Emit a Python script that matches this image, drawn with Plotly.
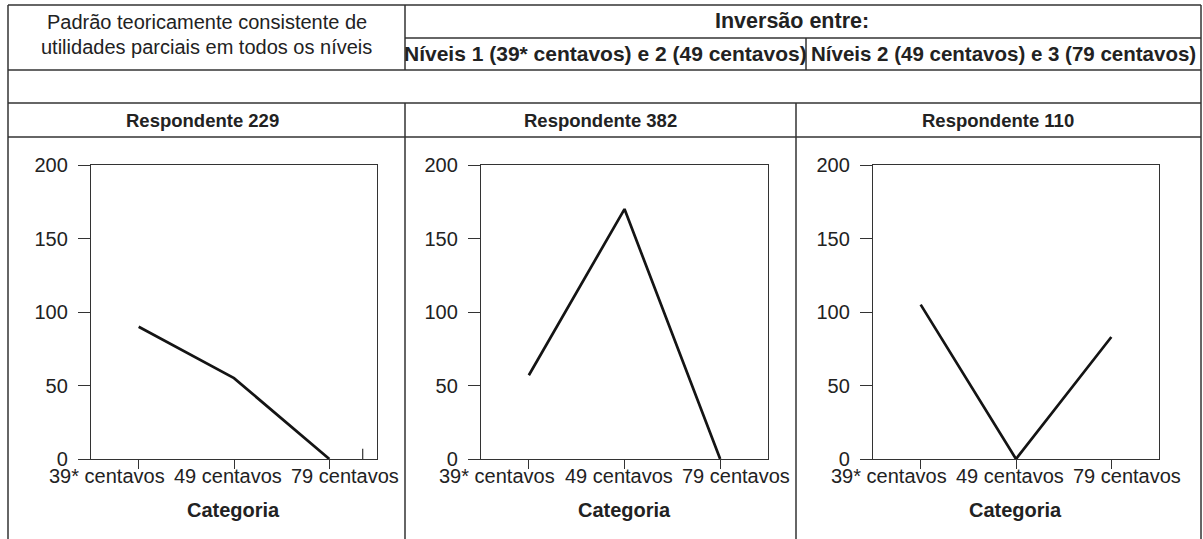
import plotly.graph_objects as go

# ---------------- data ----------------
categories = ["39* centavos", "49 centavos", "79 centavos"]
respondents = ["Respondente 229", "Respondente 382", "Respondente 110"]
values_229 = [90, 55, 0]
values_382 = [57, 170, 0]
values_110 = [105, 0, 83]
series = [values_229, values_382, values_110]
y_ticks = [0, 50, 100, 150, 200]

header_left = ["Padrão teoricamente consistente de",
               "utilidades parciais em todos os níveis"]
header_top = "Inversão entre:"
header_sub = ["Níveis 1 (39* centavos) e 2 (49 centavos)",
              "Níveis 2 (49 centavos) e 3 (79 centavos)"]
x_title = "Categoria"

# ---------------- layout helpers ----------------
W, H = 1203, 539
FONT = "Liberation Sans, Arial, Helvetica, sans-serif"
TXT = "#222222"
LINE = "#333333"


def px(x):
    return x / W


def py(y):
    return 1 - y / H


fig = go.Figure()

# panels (pixel boxes of plot areas)
panel_x = [(91, 377), (481, 768), (873, 1159)]
panel_y = (165, 459)
label_shift = [-32, -6, 16]

for i, (vals, (x0, x1)) in enumerate(zip(series, panel_x)):
    n = "" if i == 0 else str(i + 1)
    fig.add_trace(go.Scatter(
        x=list(range(len(categories))), y=vals, mode="lines",
        line=dict(color="#141414", width=2.7),
        xaxis="x" + n, yaxis="y" + n, showlegend=False, hoverinfo="skip"))
    fig.layout["xaxis" + n] = dict(
        domain=[px(x0), px(x1)], anchor="y" + n, range=[-0.5, 2.5],
        tickmode="array", tickvals=list(range(len(categories))),
        showticklabels=False, ticks="outside", ticklen=9, tickwidth=1.2,
        tickcolor=LINE, showline=True, linecolor=LINE, linewidth=1.3,
        mirror=True, showgrid=False, zeroline=False, fixedrange=True,
        automargin=False)
    fig.layout["yaxis" + n] = dict(
        domain=[py(panel_y[1]), py(panel_y[0])], anchor="x" + n,
        range=[0, 200], tickmode="array", tickvals=y_ticks,
        ticks="outside", ticklen=12, tickwidth=1.2, tickcolor=LINE,
        showline=True, linecolor=LINE, linewidth=1.3, mirror=True,
        showgrid=False, zeroline=False, ticklabelstandoff=6,
        tickfont=dict(family=FONT, size=20, color=TXT), fixedrange=True,
        automargin=False)
    # category tick labels (spread like the original)
    for j, cat in enumerate(categories):
        fig.add_annotation(
            x=j, xref="x" + n, y=py(476), yref="paper", text=cat,
            showarrow=False, xshift=label_shift[j],
            font=dict(family=FONT, size=20, color=TXT),
            xanchor="center", yanchor="middle")
    fig.add_annotation(
        x=(px(x0) + px(x1)) / 2, xref="paper", y=py(510), yref="paper",
        text="<b>%s</b>" % x_title, showarrow=False,
        font=dict(family=FONT, size=20, color=TXT),
        xanchor="center", yanchor="middle")

# small stray tick in the first panel
fig.add_shape(type="line", xref="x", yref="y", x0=2.35, x1=2.35, y0=0, y1=7,
              line=dict(color=LINE, width=1.2))

# ---------------- table frame ----------------
L, R, T = 8, 1201, 5
c1, c2, cp = 405, 806, 796
hlines = [(T, L, R), (38, c1, R), (70, L, R), (103, L, R), (137, L, R)]
vlines = [(L, T, H), (R, T, H), (c1, T, 70), (c2, 38, 70), (c1, 103, H), (cp, 103, H)]
for y, xa, xb in hlines:
    fig.add_shape(type="line", xref="paper", yref="paper",
                  x0=px(xa), x1=px(xb), y0=py(y), y1=py(y),
                  line=dict(color=LINE, width=1.5))
for x, ya, yb in vlines:
    fig.add_shape(type="line", xref="paper", yref="paper",
                  x0=px(x), x1=px(x), y0=py(ya), y1=py(yb),
                  line=dict(color=LINE, width=1.5))

# header texts
def label(x, y, text, size=20, bold=False):
    fig.add_annotation(x=px(x), y=py(y), xref="paper", yref="paper",
                       text=("<b>%s</b>" % text) if bold else text,
                       showarrow=False, xanchor="center", yanchor="middle",
                       font=dict(family=FONT, size=size, color=TXT))

label((L + c1) / 2, 22, header_left[0], size=20)
label((L + c1) / 2, 47, header_left[1], size=20)
label(792, 21, header_top, size=21.5, bold=True)
label((c1 + c2) / 2, 54, header_sub[0], size=21, bold=True)
label((c2 + R) / 2, 54, header_sub[1], size=20.5, bold=True)
resp_centers = [202, (c1 + cp) / 2, (cp + R) / 2]
for name, cx in zip(respondents, resp_centers):
    label(cx, 120, name, size=18.5, bold=True)

fig.update_layout(
    width=W, height=H,
    margin=dict(l=0, r=0, t=0, b=0, pad=0, autoexpand=False),
    paper_bgcolor="white", plot_bgcolor="white",
    font=dict(family=FONT, color=TXT), showlegend=False)

fig.write_html(
    "out.html",
    config={"displayModeBar": False},
    post_script=(
        "document.documentElement.style.margin='0';"
        "document.documentElement.style.overflow='hidden';"
        "document.body.style.margin='0';"
        "document.body.style.overflow='hidden';"
        "var gd=document.getElementById('{plot_id}');"
        "gd.style.position='fixed';gd.style.top='0px';gd.style.left='0px';"
    ),
)
